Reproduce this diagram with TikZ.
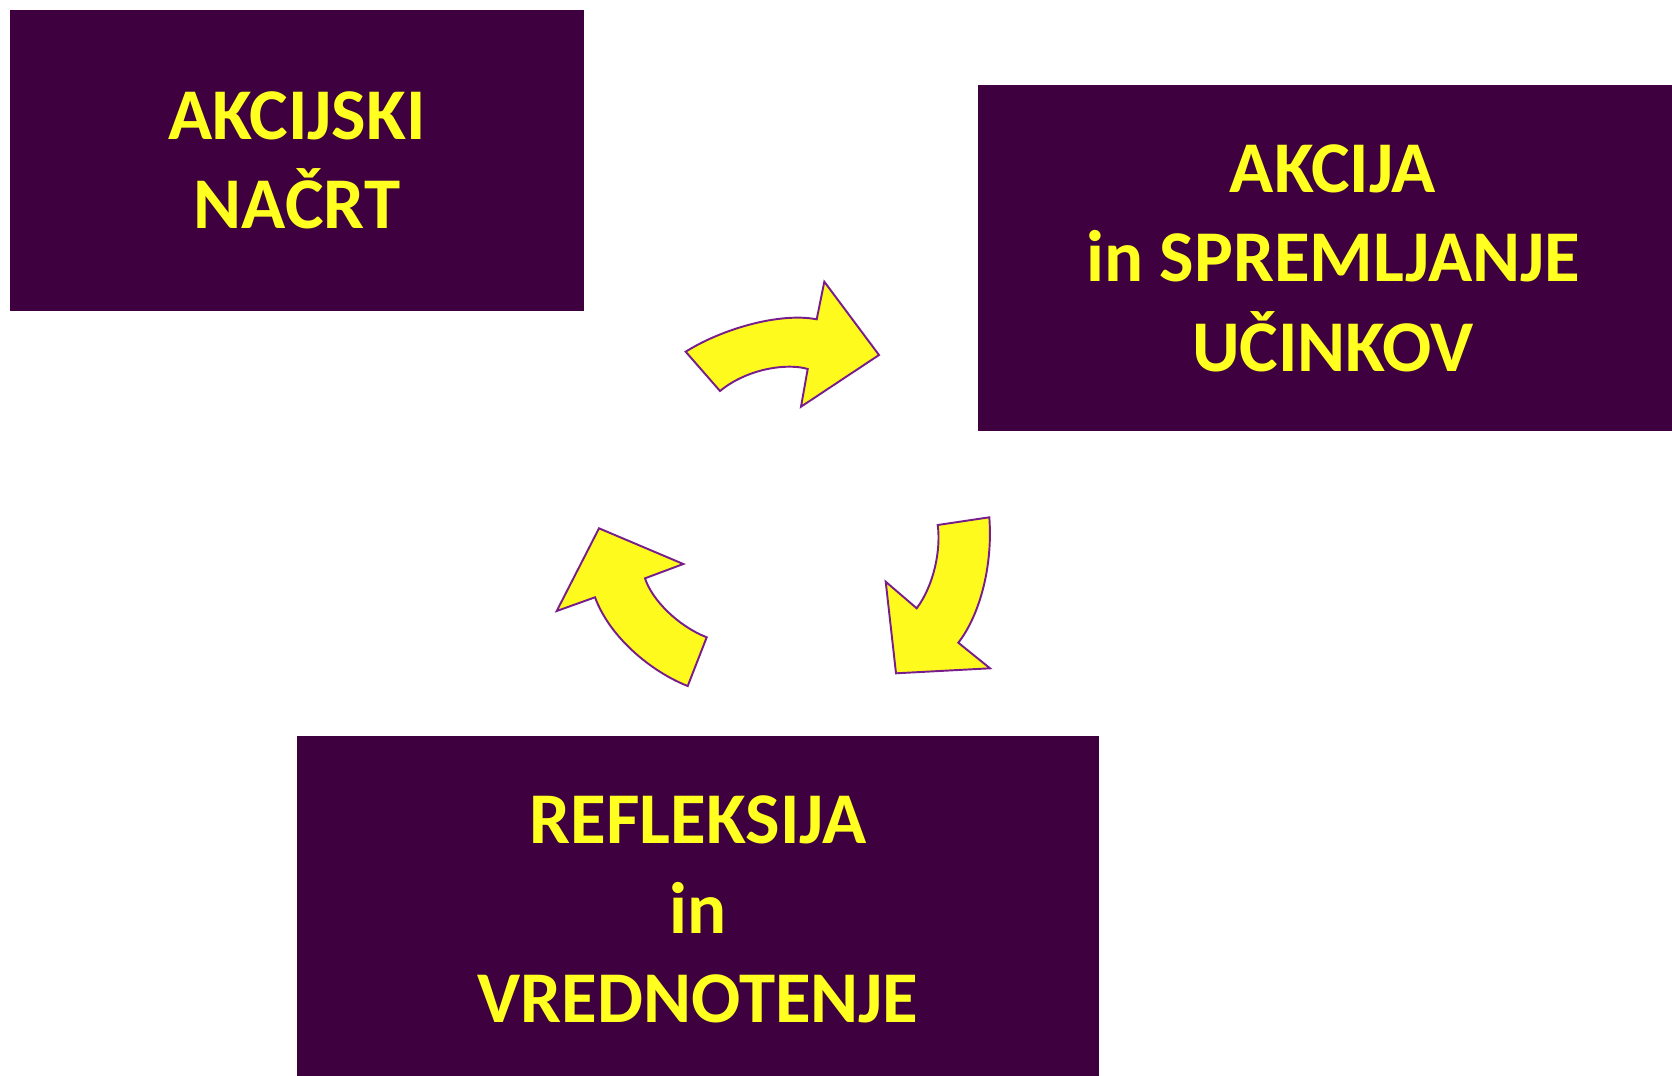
\documentclass[tikz,border=0pt]{standalone}
\usepackage{fontspec}
\setmainfont{Carlito}
\usepackage{xcolor}
\usepackage{tikz}
\usetikzlibrary{positioning}

\definecolor{boxpurple}{RGB}{63,0,63}
\definecolor{labelyellow}{RGB}{255,255,32}
\definecolor{arrowyellow}{RGB}{255,250,30}
\definecolor{arrowedge}{RGB}{120,30,140}

\begin{document}
\begin{tikzpicture}[x=0.02cm, y=-0.02cm,
        stagebox/.style={fill=boxpurple, text=labelyellow, align=center,
            font=\fontsize{41.5}{51}\selectfont\bfseries, inner sep=0pt, outer sep=0pt},
        cyclearrow/.style={fill=arrowyellow, draw=arrowedge, line width=1.1pt, line join=miter}]
        \useasboundingbox (0,0) rectangle (1672,1075);
        \clip (0,0) rectangle (1672,1075);

        % Stages
        \node[stagebox, minimum width=11.5cm, minimum height=6.04cm] (plan) at (297,160.5) {AKCIJSKI\\NAČRT};
        \node[stagebox, minimum width=14.2cm, minimum height=6.91cm] (action) at (1333,258) {AKCIJA\\in SPREMLJANJE\\UČINKOV};
        \node[stagebox, minimum width=16.04cm, minimum height=6.96cm] (reflect) at (698,909.6) {REFLEKSIJA\\in\\VREDNOTENJE};

        % Cycle arrows
        \draw[cyclearrow] (685.7,351.7) .. controls (720,330) and (778,312) .. (816.7,319.3)
            -- (824.3,281.7) -- (879,355) -- (801,406.7) -- (807.7,369)
            .. controls (788,363) and (748,368) .. (720,391) -- cycle;

        \draw[cyclearrow] (989.3,517.3) -- (937.7,525)
            .. controls (941,550) and (934,585) .. (916.7,608.3)
            -- (885.7,581.7) -- (896,673.3) -- (990,668.3) -- (958.3,642.7)
            .. controls (980,615) and (993,565) .. cycle;

        \draw[cyclearrow] (687.7,686) .. controls (652,672) and (610,638) .. (595,597.3)
            -- (556.7,611) -- (599,528.3) -- (683.3,564) -- (645,578.3)
            .. controls (652,600) and (678,626) .. (706.7,637.3) -- cycle;

    \end{tikzpicture}
\end{document}
